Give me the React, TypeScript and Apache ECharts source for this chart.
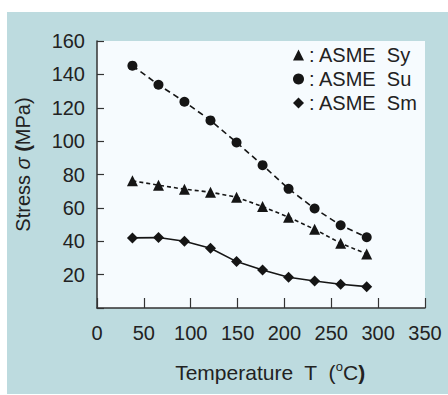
import React, { useEffect, useRef } from "react";
import * as echarts from "echarts";

const temps = [37.8, 65.6, 93.3, 121.1, 148.9, 176.7, 204.4, 232.2, 260, 287.8];
const sy = [76.2, 73.6, 71.2, 69.4, 66.4, 60.8, 54.4, 47.2, 38.8, 32.4];
const su = [145.2, 133.8, 123.6, 112.4, 99.2, 85.6, 71.4, 59.6, 49.6, 42.4];
const sm = [42, 42.2, 40, 35.8, 27.8, 22.8, 18.4, 16.2, 14.2, 12.8];
const seriesNames = ["ASME Sy", "ASME Su", "ASME Sm"];
const legendLabels = [": ASME  Sy", ": ASME  Su", ": ASME  Sm"];

const FONT = "'Liberation Sans', Arial, sans-serif";
const INK = "#222222";

export default function App() {
  const ref = useRef<HTMLDivElement>(null);
  useEffect(() => {
    if (!ref.current) return;
    const chart = echarts.init(ref.current, null, { renderer: "svg" });
    const pair = (ys: number[]) => temps.map((t, i) => [t, ys[i]]);
    chart.setOption({
      animation: false,
      textStyle: { fontFamily: FONT, color: INK },
      graphic: [
        {
          type: "rect",
          z: -10,
          silent: true,
          shape: { x: 7, y: 12, width: 441, height: 382 },
          style: { fill: "#bddbdf" },
        },
      ],
      grid: {
        left: 97,
        top: 41,
        right: 23,
        bottom: 87,
        show: true,
        backgroundColor: "#f6fbfe",
        borderWidth: 0,
      },
      legend: {
        orient: "vertical",
        left: 288,
        top: 40,
        itemWidth: 11,
        itemHeight: 11,
        itemGap: 4,
        textStyle: { fontSize: 20, color: INK, fontFamily: FONT, lineHeight: 20 },
        formatter: (n: string) => legendLabels[seriesNames.indexOf(n)],
        data: [
          { name: seriesNames[0], icon: "triangle" },
          { name: seriesNames[1], icon: "circle" },
          { name: seriesNames[2], icon: "diamond" },
        ],
      },
      xAxis: {
        type: "value",
        min: 0,
        max: 350,
        interval: 50,
        name: "Temperature  T  ({sup|o}C{b|)}",
        nameLocation: "middle",
        nameGap: 52,
        nameTextStyle: {
          fontSize: 21,
          color: INK,
          padding: [0, 0, 0, 18],
          rich: {
            sup: { fontSize: 13, color: INK, padding: [0, 0, 11, 0] },
            b: { fontSize: 21, fontWeight: "bold", color: INK },
          },
        },
        axisLine: { show: true, lineStyle: { color: "#333", width: 1.5 } },
        axisTick: { show: true, inside: true, length: 10, lineStyle: { color: "#333", width: 1.2 } },
        axisLabel: { fontSize: 20, color: INK, margin: 15 },
        splitLine: { show: false },
      },
      yAxis: {
        type: "value",
        min: 0,
        max: 160,
        interval: 20,
        name: "Stress {i|σ} {b|(}MPa)",
        nameLocation: "middle",
        nameGap: 64,
        nameTextStyle: {
          fontSize: 20,
          color: INK,
          padding: [0, 0, 0, 20],
          rich: {
            i: { fontSize: 20, fontStyle: "italic", color: INK },
            b: { fontSize: 20, fontWeight: "bold", color: INK },
          },
        },
        axisLine: { show: true, lineStyle: { color: "#333", width: 1.5 } },
        axisTick: { show: true, inside: true, length: 7, lineStyle: { color: "#333", width: 1.2 } },
        axisLabel: {
          fontSize: 20,
          color: INK,
          margin: 12,
          formatter: (v: number) => (v === 0 ? "" : String(v)),
        },
        splitLine: { show: false },
      },
      series: [
        {
          name: seriesNames[0],
          type: "line",
          data: pair(sy),
          symbol: "triangle",
          symbolSize: 11,
          itemStyle: { color: "#151515" },
          lineStyle: { color: "#151515", width: 1.6, type: [4, 3] },
        },
        {
          name: seriesNames[1],
          type: "line",
          data: pair(su),
          symbol: "circle",
          symbolSize: 10,
          itemStyle: { color: "#151515" },
          lineStyle: { color: "#151515", width: 1.6, type: [6, 4] },
        },
        {
          name: seriesNames[2],
          type: "line",
          data: pair(sm),
          symbol: "diamond",
          symbolSize: 11,
          itemStyle: { color: "#151515" },
          lineStyle: { color: "#151515", width: 1.6, type: "solid" },
        },
      ],
    });
    return () => chart.dispose();
  }, []);
  return (
    <div
      ref={ref}
      style={{ position: "fixed", left: 0, top: 0, width: 448, height: 395, background: "#ffffff" }}
    />
  );
}
